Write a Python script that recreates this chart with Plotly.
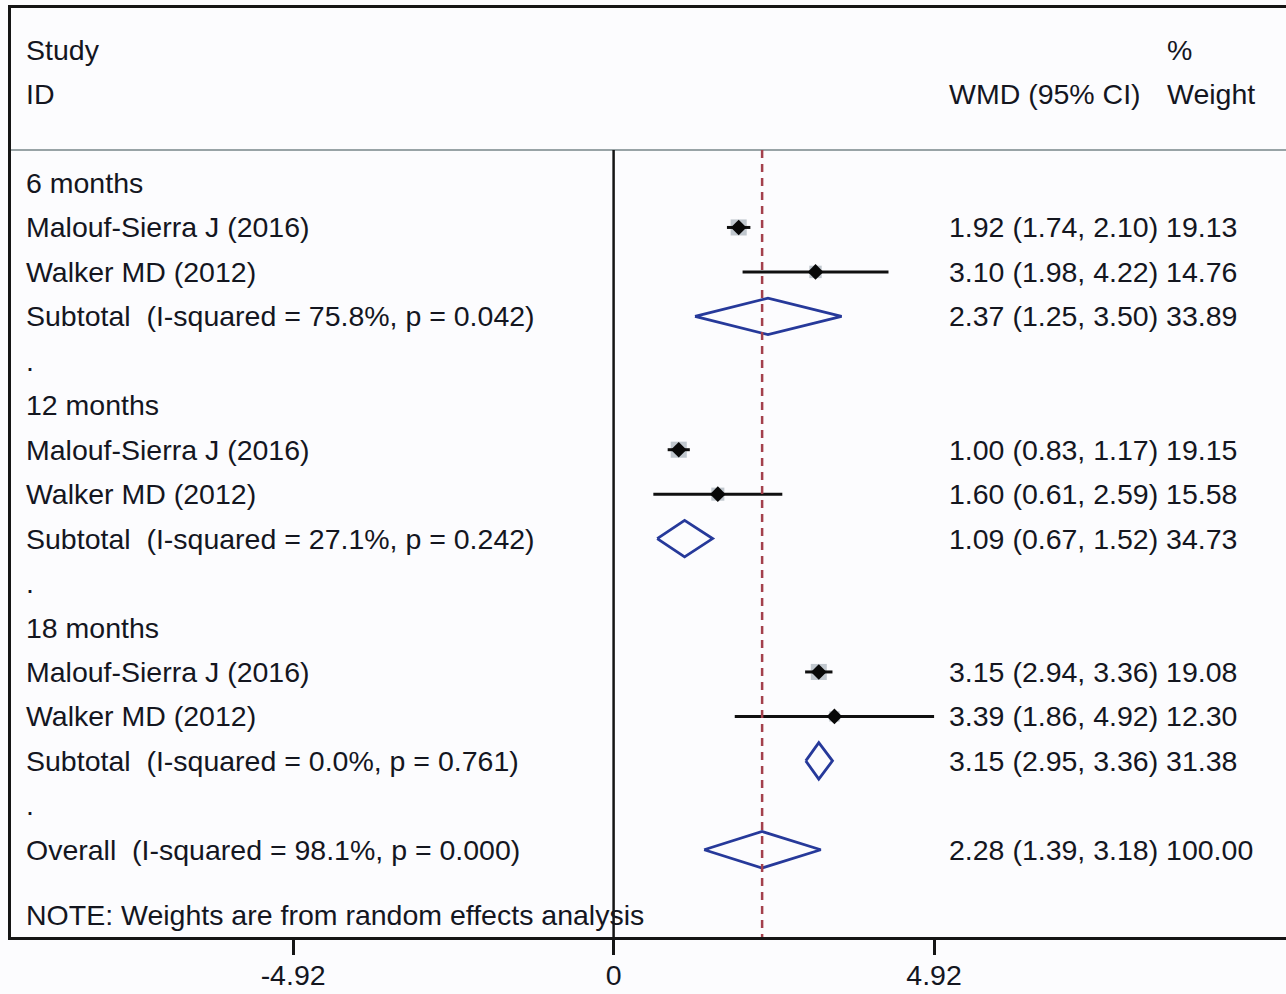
import plotly.graph_objects as go

# ---- forest plot data (WMD with 95% CI, random-effects weights) ----
row_labels = [
    "6 months",
    "Malouf-Sierra J (2016)",
    "Walker MD (2012)",
    "Subtotal\u00a0 (I-squared = 75.8%, p = 0.042)",
    ".",
    "12 months",
    "Malouf-Sierra J (2016)",
    "Walker MD (2012)",
    "Subtotal\u00a0 (I-squared = 27.1%, p = 0.242)",
    ".",
    "18 months",
    "Malouf-Sierra J (2016)",
    "Walker MD (2012)",
    "Subtotal\u00a0 (I-squared = 0.0%, p = 0.761)",
    ".",
    "Overall\u00a0 (I-squared = 98.1%, p = 0.000)",
]
# row kind: h = heading, s = study, d = pooled (diamond), b = blank
row_kind = ["h", "s", "s", "d", "b",
            "h", "s", "s", "d", "b",
            "h", "s", "s", "d", "b",
            "d"]
wmd = [None, 1.92, 3.10, 2.37, None,
       None, 1.00, 1.60, 1.09, None,
       None, 3.15, 3.39, 3.15, None,
       2.28]
ci_low = [None, 1.74, 1.98, 1.25, None,
          None, 0.83, 0.61, 0.67, None,
          None, 2.94, 1.86, 2.95, None,
          1.39]
ci_high = [None, 2.10, 4.22, 3.50, None,
           None, 1.17, 2.59, 1.52, None,
           None, 3.36, 4.92, 3.36, None,
           3.18]
weight = [None, 19.13, 14.76, 33.89, None,
          None, 19.15, 15.58, 34.73, None,
          None, 19.08, 12.30, 31.38, None,
          100.00]
note_text = "NOTE: Weights are from random effects analysis"
tick_vals = [-4.92, 0, 4.92]
tick_text = ["-4.92", "0", "4.92"]

# ---- layout geometry ----
W, H = 1286, 994
M_L, M_R, M_T, M_B = 11, 0, 8, 57
PX_PER_UNIT = 65.14          # horizontal scale of the WMD axis
X0_PX = 613.6                # pixel of WMD = 0
ROW0_PX, ROW_PX = 183.0, 44.45

x_range = [(M_L - X0_PX) / PX_PER_UNIT, (W - M_R - X0_PX) / PX_PER_UNIT]
y_range = [(H - M_B - ROW0_PX) / ROW_PX, (M_T - ROW0_PX) / ROW_PX]


def paper_x(px):
    return (px - M_L) / (W - M_L - M_R)


TEXT = "#14161f"
FONT = "Liberation Sans, Arial, sans-serif"
FS = 28.5
BOX = "#a7b1b9"
DIAMOND = "#26399a"
REF = "#a3404c"
BG = "#fcfcfe"

fig = go.Figure()

rows = list(range(len(row_labels)))
study_rows = [r for r in rows if row_kind[r] == "s"]

# weight boxes
fig.add_trace(go.Scatter(
    x=[wmd[r] for r in study_rows], y=study_rows, mode="markers",
    marker=dict(symbol="square", color=BOX,
                size=[0.84 * weight[r] for r in study_rows], line=dict(width=0)),
    hoverinfo="skip", showlegend=False))

# confidence intervals
for r in study_rows:
    fig.add_trace(go.Scatter(
        x=[ci_low[r], ci_high[r]], y=[r, r], mode="lines",
        line=dict(color="#101010", width=3), hoverinfo="skip", showlegend=False))

# point estimates
fig.add_trace(go.Scatter(
    x=[wmd[r] for r in study_rows], y=study_rows, mode="markers",
    marker=dict(symbol="diamond", color="#080808", size=12),
    showlegend=False))

# pooled-estimate diamonds
half_h = 0.41
for r in rows:
    if row_kind[r] == "d":
        fig.add_trace(go.Scatter(
            x=[ci_low[r], wmd[r], ci_high[r], wmd[r], ci_low[r]],
            y=[r, r - half_h, r, r + half_h, r],
            mode="lines", line=dict(color=DIAMOND, width=2.8),
            hoverinfo="skip", showlegend=False))

overall = rows[-1]
sep_row = (150 - ROW0_PX) / ROW_PX

shapes = [
    # header separator
    dict(type="line", xref="paper", yref="y", x0=0, x1=1, y0=sep_row, y1=sep_row,
         line=dict(color="#98a3a6", width=2)),
    # line of no effect
    dict(type="line", xref="x", yref="y", x0=0, x1=0, y0=sep_row, y1=y_range[0],
         line=dict(color="#151515", width=2.5)),
    # overall effect reference line
    dict(type="line", xref="x", yref="y", x0=wmd[overall], x1=wmd[overall],
         y0=sep_row, y1=y_range[0],
         line=dict(color=REF, width=2.5, dash="8px,6px")),
]

annotations = []


def add_text(px, row, text):
    annotations.append(dict(
        x=paper_x(px), xref="paper", y=row, yref="y", text=text,
        showarrow=False, xanchor="left", yanchor="middle",
        font=dict(family=FONT, size=FS, color=TEXT)))


# headers
add_text(24, -3, "Study")
add_text(24, -2, "ID")
add_text(1165, -3, "%")
add_text(947, -2, "WMD (95% CI)")
add_text(1165, -2, "Weight")

for r in rows:
    add_text(24, r, row_labels[r])
    if wmd[r] is not None:
        add_text(947, r, f"{wmd[r]:.2f} ({ci_low[r]:.2f}, {ci_high[r]:.2f}) {weight[r]:.2f}")

add_text(24, 16.47, note_text)

fig.update_layout(
    width=W, height=H,
    margin=dict(l=M_L, r=M_R, t=M_T, b=M_B),
    paper_bgcolor=BG, plot_bgcolor=BG,
    showlegend=False,
    shapes=shapes,
    annotations=annotations,
    xaxis=dict(range=x_range, showgrid=False, zeroline=False,
               showline=True, linecolor="#151515", linewidth=3, mirror=True,
               tickmode="array", tickvals=tick_vals, ticktext=tick_text,
               ticks="outside", ticklen=15, tickwidth=2.5, tickcolor="#151515",
               ticklabelstandoff=-4,
               tickfont=dict(family=FONT, size=FS, color=TEXT)),
    yaxis=dict(range=y_range, showgrid=False, zeroline=False,
               showline=True, linecolor="#151515", linewidth=2.5,
               showticklabels=False, ticks=""),
)

fig.write_html("out.html")
